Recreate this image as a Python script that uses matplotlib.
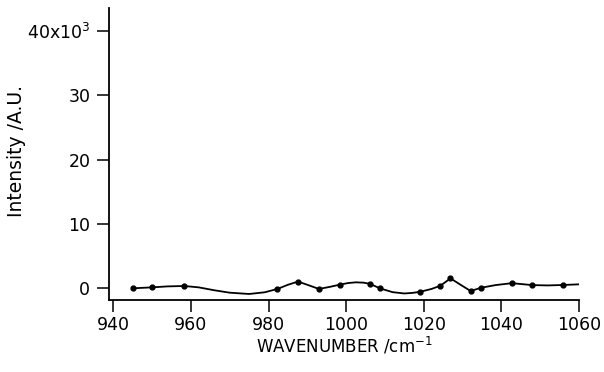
import matplotlib
matplotlib.use("Agg")
from matplotlib import pyplot as plt

# measured points (wavenumber, intensity in 10^3 A.U.)
pt_x = [945, 950, 958.3, 982.3, 987.6, 993, 998.3, 1006.1, 1008.8,
        1019, 1024.3, 1026.9, 1032.1, 1034.7, 1042.7, 1048, 1056]
pt_y = [0.0, 0.15, 0.36, -0.1, 1.05, -0.1, 0.56, 0.7, -0.02,
        -0.55, 0.4, 1.55, -0.42, 0.08, 0.8, 0.5, 0.52]

# fitted curve
curve_x = [945, 950, 954, 958.3, 962, 966, 970, 975, 979, 982.3, 985, 987.6,
           990, 993, 996, 998.3, 1000.5, 1002.5, 1004.5, 1006.1, 1008.8,
           1012, 1015, 1017, 1019, 1022, 1024.3, 1026.9, 1029.5, 1032.1,
           1034.7, 1038.5, 1042.7, 1048, 1052, 1056, 1060]
curve_y = [0.0, 0.15, 0.3, 0.36, 0.15, -0.3, -0.68, -0.88, -0.62, -0.1, 0.55, 1.05,
           0.55, -0.1, 0.25, 0.56, 0.82, 0.93, 0.88, 0.7, -0.02,
           -0.6, -0.8, -0.72, -0.55, -0.1, 0.4, 1.55, 0.55, -0.42,
           0.08, 0.5, 0.8, 0.5, 0.45, 0.52, 0.62]

yticks = [0, 10, 20, 30, 40]
yticklabels = ['0', '10', '20', '30', '40x10$^3$']
xticks = [940, 960, 980, 1000, 1020, 1040, 1060]

fig = plt.figure(figsize=(6.04, 3.72), dpi=100)
ax = fig.add_axes([0.1805, 0.1935, 0.778, 0.785])

ax.plot(curve_x, curve_y, color='black', lw=1.3)
ax.plot(pt_x, pt_y, 'o', color='black', ms=3.5)

ax.set_xlim(938.9, 1060)
ax.set_ylim(-1.82, 43.6)

ax.spines['right'].set_visible(False)
ax.spines['top'].set_visible(False)
ax.spines['left'].set_linewidth(1.3)
ax.spines['bottom'].set_linewidth(1.3)

ax.set_xticks(xticks)
ax.set_yticks(yticks)
ax.set_yticklabels(yticklabels)
ax.tick_params(axis='both', direction='out', length=8.5, width=1.1,
               labelsize=12.5, colors='black')
ax.tick_params(axis='x', pad=3)
ax.tick_params(axis='y', pad=5)

ax.set_xlabel('WAVENUMBER /cm$^{-1}$', fontsize=12, labelpad=1)
ax.set_ylabel('Intensity /A.U.', fontsize=13.5)
ax.yaxis.set_label_coords(-0.177, 0.51)

fig.savefig('out.png', dpi=100)
